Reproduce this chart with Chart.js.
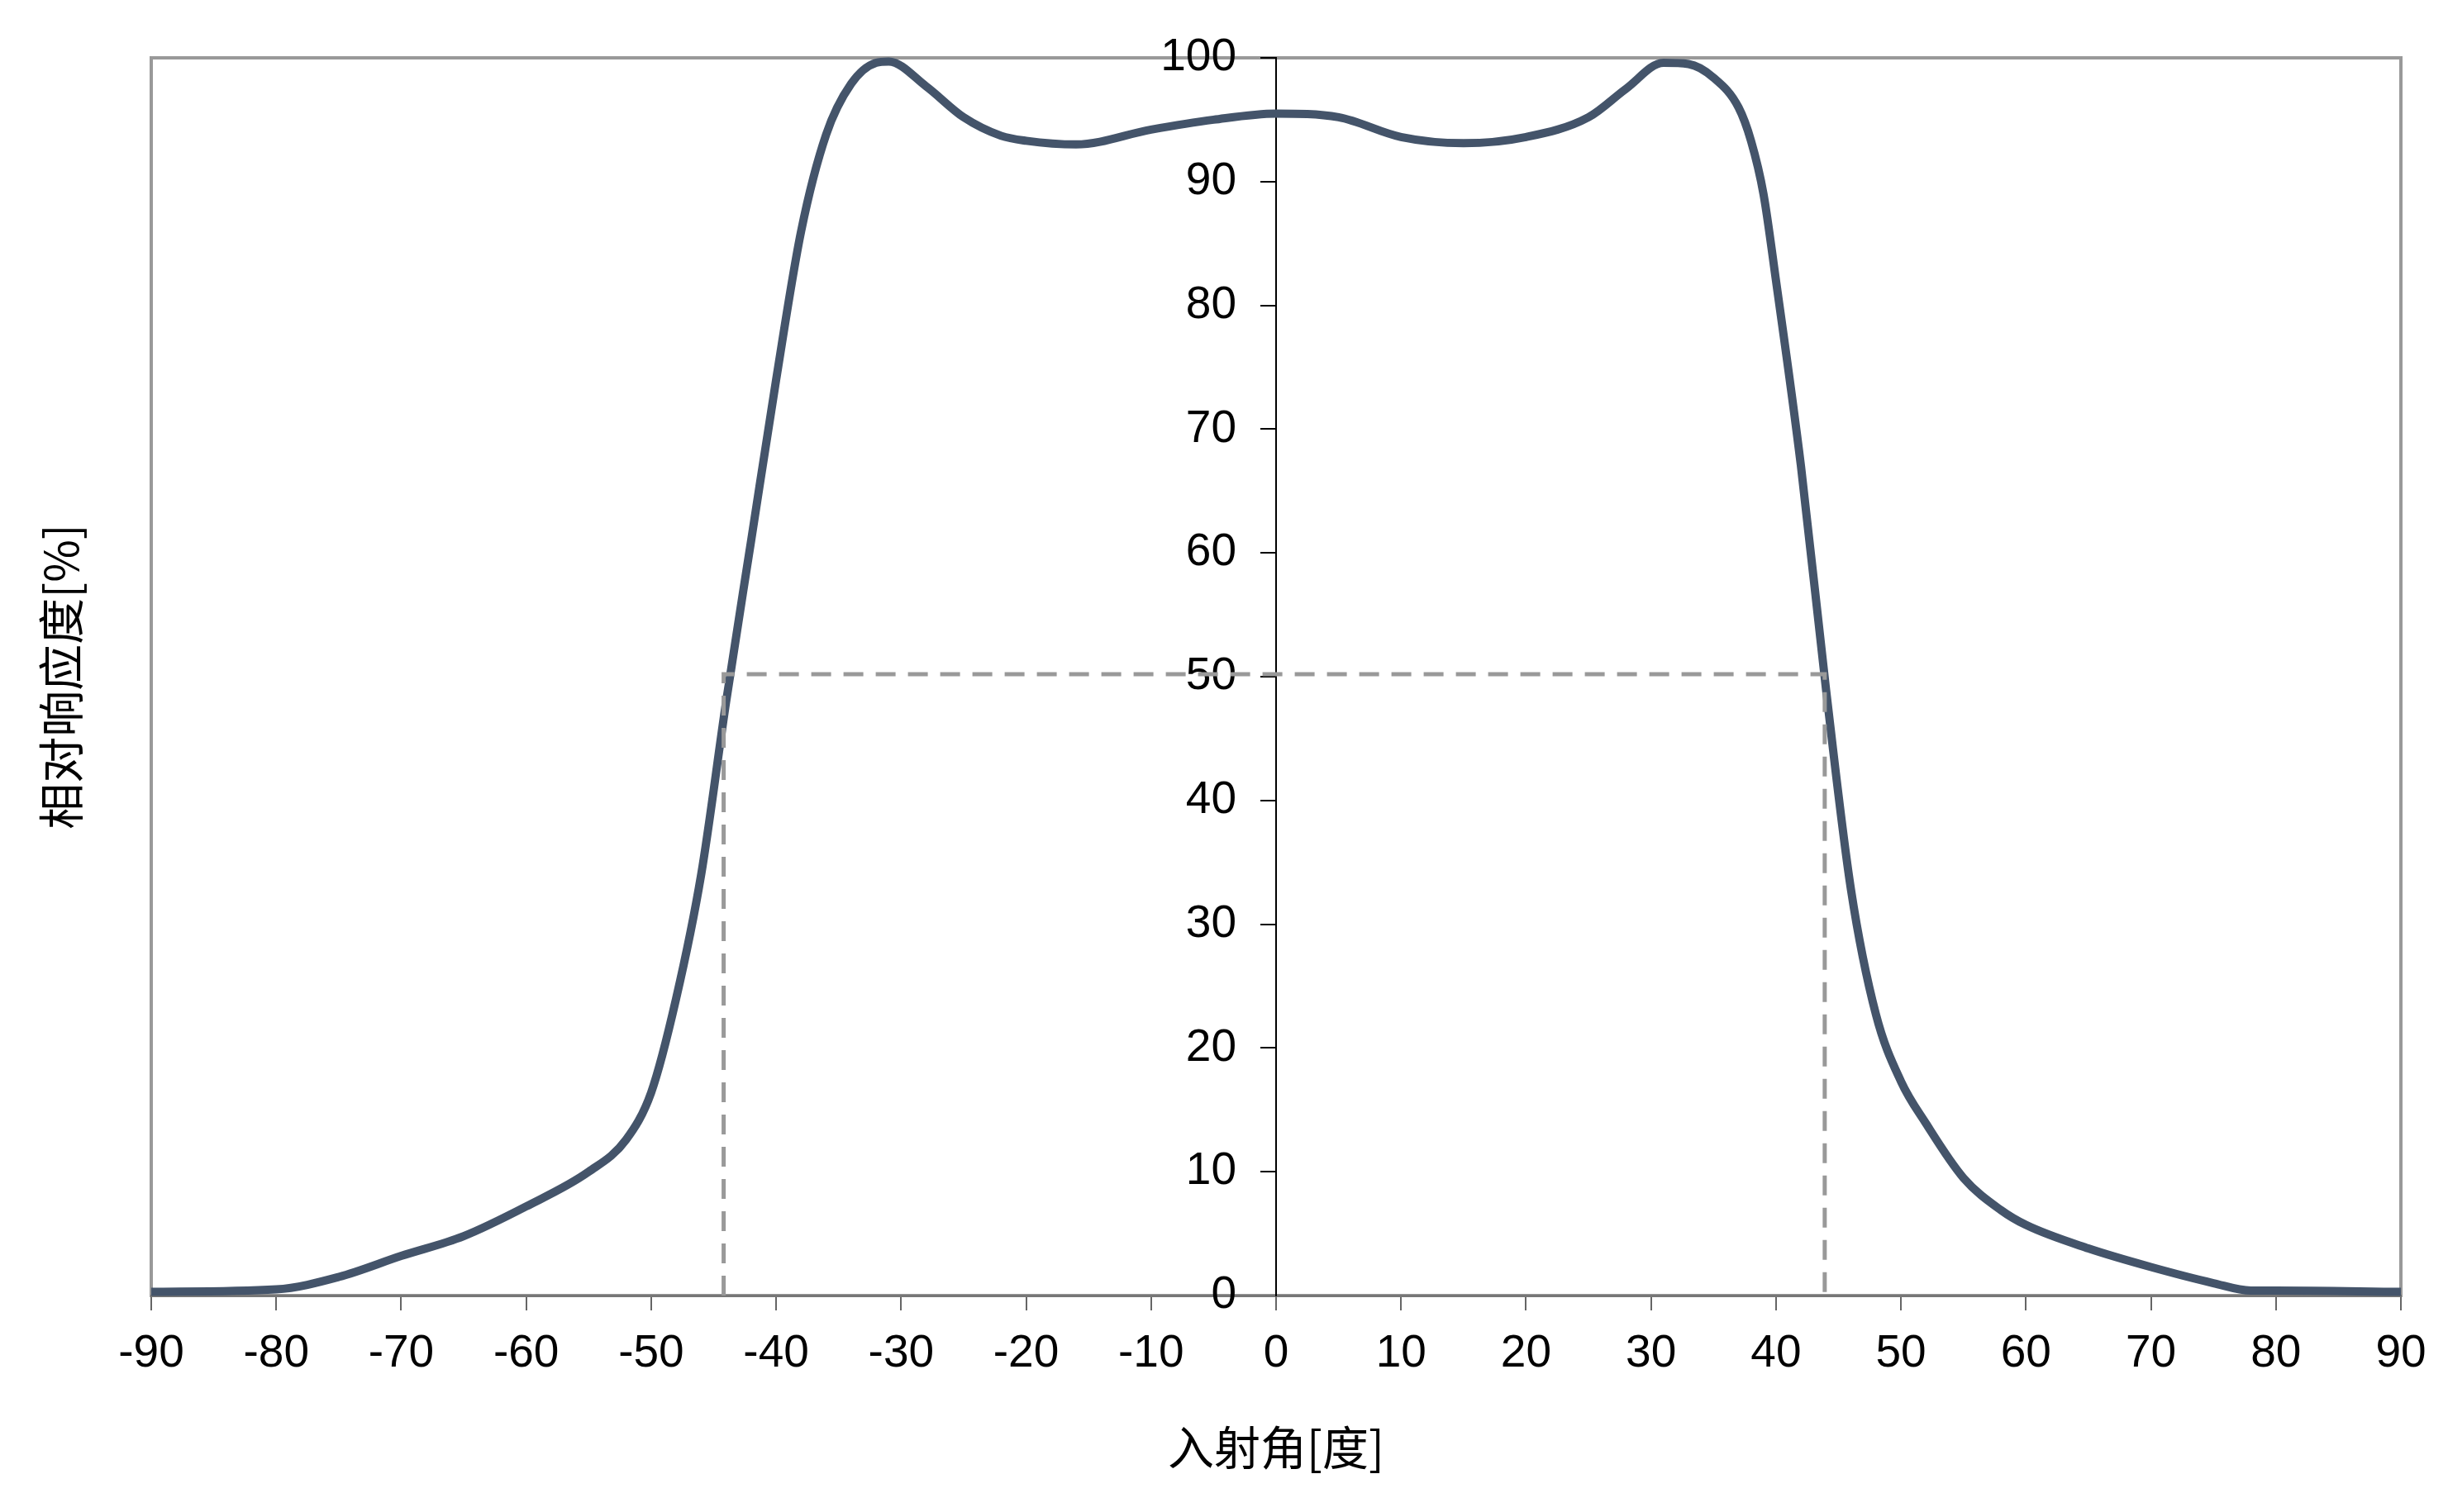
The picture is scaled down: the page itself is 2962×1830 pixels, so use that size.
<!DOCTYPE html>
<html>
<head>
<meta charset="utf-8">
<script src="https://cdn.jsdelivr.net/npm/chart.js@4.4.1/dist/chart.umd.min.js"></script>
<style>
    html, body { margin: 0; padding: 0; background: #fff; }
    #wrap { width: 2962px; height: 1830px; }
</style>
</head>
<body>
<div id="wrap"><canvas id="chart"></canvas></div>
<script>
// Incidence angle [deg] and relative response [%]
const angles = [-90, -80, -75, -70, -65, -60, -55, -52, -50, -48, -46, -44, -42, -40, -38, -36, -34, -32, -31,
    -28, -25, -22, -20, -16, -10, -5, 0, 5, 10, 15, 20, 25, 28, 31, 33, 35, 37, 38, 39, 40,
    42, 44, 46, 48, 50, 52, 55, 58, 60, 65, 70, 75, 78, 80, 90];
const response = [0.3, 0.5, 1.5, 3.2, 4.8, 7.2, 10, 12.6, 16.4, 24, 34, 48, 61, 74, 86, 93.8, 97.9, 99.6, 99.7,
    97.7, 95.2, 93.7, 93.3, 93.0, 94.2, 95.0, 95.5, 95.2, 93.6, 93.1, 93.6, 95.2, 97.5, 99.6, 99.5, 98.4, 96.0, 93.3, 89, 82,
    67, 49, 32.8, 22.7, 17.3, 13.9, 9.5, 6.9, 5.7, 3.8, 2.3, 1.0, 0.4, 0.4, 0.3];

// 50% width guide (dashed)
const halfX = [-44.2, -44.2, 43.9, 43.9];
const halfY = [0, 50.2, 50.2, 0];

// Tick labels
const xTicks = [-90, -80, -70, -60, -50, -40, -30, -20, -10, 0, 10, 20, 30, 40, 50, 60, 70, 80, 90];
const yTicks = [0, 10, 20, 30, 40, 50, 60, 70, 80, 90, 100];

const lineColor = '#44546A';
const frameGrey = '#999999';
const numFont = { family: "'Liberation Sans', Arial, sans-serif", size: 55 };
const titleFont = { family: "'Noto Sans CJK SC', sans-serif", size: 56, weight: 'normal' };

// Grey frame round the plot area
const plotFrame = {
    id: 'plotFrame',
    beforeDraw(chart) {
        const { ctx, chartArea: a } = chart;
        ctx.save();
        ctx.strokeStyle = frameGrey;
        ctx.lineWidth = 4;
        ctx.strokeRect(a.left, a.top, a.right - a.left, a.bottom - a.top);
        ctx.restore();
    }
};

new Chart(document.getElementById('chart'), {
    type: 'line',
    data: {
        datasets: [{
            data: halfX.map((x, i) => ({ x: x, y: halfY[i] })),
            borderColor: frameGrey,
            borderWidth: 5,
            borderDash: [24, 15],
            pointRadius: 0,
            tension: 0,
            order: 0
        }, {
            data: angles.map((x, i) => ({ x: x, y: response[i] })),
            borderColor: lineColor,
            borderWidth: 10,
            pointRadius: 0,
            cubicInterpolationMode: 'monotone',
            order: 1
        }]
    },
    options: {
        responsive: true,
        maintainAspectRatio: false,
        devicePixelRatio: 1,
        animation: false,
        clip: false,
        layout: { padding: { top: 70, right: 57, bottom: 0, left: 0 } },
        plugins: {
            legend: { display: false },
            tooltip: { enabled: false }
        },
        scales: {
            x: {
                type: 'linear',
                min: -90,
                max: 90,
                afterBuildTicks: s => { s.ticks = xTicks.map(v => ({ value: v })); },
                ticks: { color: '#000', font: numFont, padding: 20, maxRotation: 0, autoSkip: false },
                grid: { drawOnChartArea: false, tickLength: 18, color: '#666', lineWidth: 2 },
                border: { color: '#777', width: 3 },
                title: {
                    display: true,
                    text: '入射角[度]',
                    color: '#000',
                    font: titleFont,
                    padding: { top: 0, bottom: 45 }
                },
                afterFit: s => { s.height = 262; }
            },
            y: {
                type: 'linear',
                position: 'center',
                min: 0,
                max: 100,
                afterBuildTicks: s => { s.ticks = yTicks.map(v => ({ value: v })); },
                ticks: { color: '#000', font: numFont, padding: 30, autoSkip: false },
                grid: { drawOnChartArea: false, tickLength: 18, color: '#000', lineWidth: 2 },
                border: { color: '#000', width: 2 }
            },
            yTitle: {
                type: 'linear',
                position: 'left',
                ticks: { display: false },
                grid: { display: false },
                border: { display: false },
                title: {
                    display: true,
                    text: '相对响应度[%]',
                    color: '#000',
                    font: titleFont,
                    padding: { top: 40, bottom: 0 }
                },
                afterFit: s => { s.width = 183; }
            }
        }
    },
    plugins: [plotFrame]
});
</script>
</body>
</html>
